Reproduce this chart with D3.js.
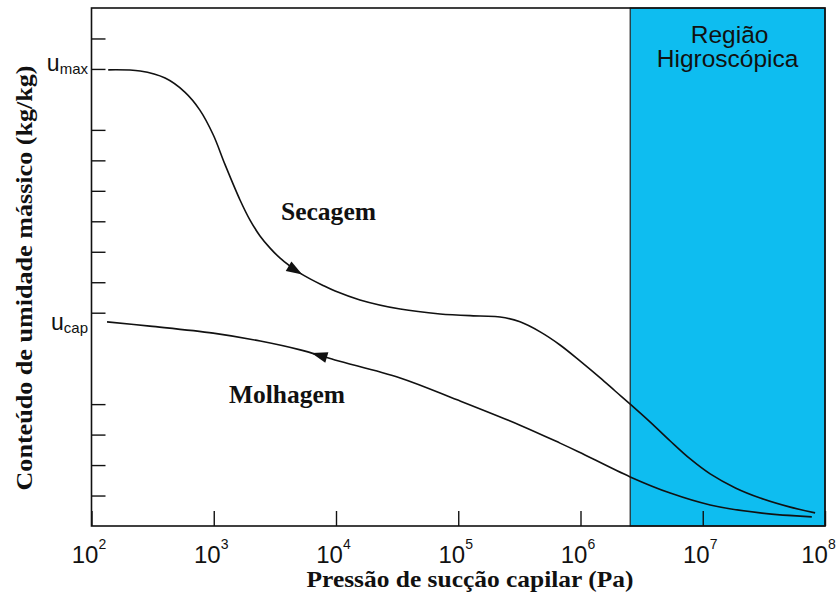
<!DOCTYPE html>
<html>
<head>
<meta charset="utf-8">
<script src="https://cdn.jsdelivr.net/npm/d3@7"></script>
<style>
  body { margin: 0; background: #fff; }
  .serif { font-family: "Liberation Serif", "Times New Roman", serif; font-weight: bold; }
  .sans { font-family: "Liberation Sans", Arial, sans-serif; }
</style>
</head>
<body>
<div id="chart"></div>
<script>
// drying curve: suction pressure (Pa) and moisture content (axis tick units)
var secagemP = [1.37e2, 2.5e2, 4.0e2, 5.8e2, 7.7e2, 9.9e2, 1.24e3, 1.64e3, 1.98e3, 2.39e3, 2.89e3, 3.49e3,
  4.21e3, 5.08e3, 6.14e3, 7.69e3, 9.84e3, 1.57e4, 3.35e4, 7.1e4, 1.51e5, 2.2e5, 3.2e5, 4.68e5, 6.8e5,
  9.95e5, 1.45e6, 1.92e6, 2.55e6, 3.72e6, 5.42e6, 7.9e6, 1.15e7, 1.85e7, 2.95e7, 5.2e7, 8.3e7];
var secagemU = [14.97, 14.93, 14.70, 14.24, 13.65, 12.84, 11.85, 10.70, 10.04, 9.52, 9.12, 8.79,
  8.53, 8.30, 8.11, 7.91, 7.71, 7.42, 7.12, 6.96, 6.89, 6.86, 6.70, 6.37, 5.94,
  5.41, 4.86, 4.43, 4.00, 3.41, 2.79, 2.20, 1.71, 1.25, 0.92, 0.62, 0.43];

// wetting curve
var molhagemP = [1.34e2, 3.0e2, 9.9e2, 2.4e3, 5.1e3, 9.8e3, 3.35e4, 9.8e4, 3.2e5, 6.8e5, 9.7e5, 2.55e6,
  5.42e6, 1.15e7, 2.95e7, 7.8e7];
var molhagemU = [6.70, 6.56, 6.33, 6.07, 5.78, 5.45, 4.86, 4.14, 3.31, 2.72, 2.43, 1.61,
  1.08, 0.69, 0.43, 0.30];

// axis ticks
var xTickValues = [1e2, 1e3, 1e4, 1e5, 1e6, 1e7, 1e8];
var xTickExp = ["2", "3", "4", "5", "6", "7", "8"];
var yTickValues = [1, 2, 3, 4, 7, 8, 9, 10, 11, 12, 13, 15, 16];

// marked moisture levels
var uMax = 15;
var uCap = 6.7;

// hygroscopic region limits (Pa)
var hygroStart = 2.55e6;
var hygroEnd = 1e8;

// where the direction arrows sit (Pa)
var secagemArrowP = 5.3e3;
var molhagemArrowP = 6.3e3;

var width = 838;
var height = 599;
var plotLeft = 91.5, plotRight = 825, plotTop = 8, plotBottom = 526;

var svg = d3
  .select("#chart")
  .append("svg")
  .attr("width", width)
  .attr("height", height);

var xScale = d3.scaleLog().domain([1e2, 1e8]).range([plotLeft, plotRight]);
var yScale = d3.scaleLinear().domain([0, 17]).range([plotBottom, plotTop]);

// blue hygroscopic band
svg.append("rect")
  .attr("x", xScale(hygroStart))
  .attr("y", plotTop)
  .attr("width", xScale(hygroEnd) - xScale(hygroStart))
  .attr("height", plotBottom - plotTop)
  .attr("fill", "#0ebdf0")
  .attr("stroke", "#222")
  .attr("stroke-width", 1.2);

var bandMid = (xScale(hygroStart) + xScale(hygroEnd)) / 2;
svg.append("text")
  .attr("class", "sans")
  .attr("x", bandMid + 2)
  .attr("y", 43)
  .attr("text-anchor", "middle")
  .attr("font-size", 24.5)
  .attr("fill", "#111")
  .text("Região");
svg.append("text")
  .attr("class", "sans")
  .attr("x", bandMid)
  .attr("y", 67)
  .attr("text-anchor", "middle")
  .attr("font-size", 24.5)
  .attr("fill", "#111")
  .text("Higroscópica");

// axes
var xAxis = d3.axisBottom(xScale).tickValues(xTickValues).tickSize(-15).tickFormat("");
var yAxis = d3.axisLeft(yScale).tickValues(yTickValues).tickSize(-14).tickFormat("");

var gx = svg.append("g")
  .attr("transform", "translate(0," + plotBottom + ")")
  .call(xAxis);
gx.select(".domain").remove();
gx.selectAll(".tick line").attr("stroke", "#111").attr("stroke-width", 1.4);

gx.selectAll(".tick text")
  .attr("class", "sans")
  .attr("y", 37)
  .attr("dy", null)
  .attr("x", function(d, i) { return i === xTickValues.length - 1 ? -7 : -3; })
  .attr("text-anchor", "middle")
  .attr("font-size", 24)
  .attr("fill", "#111")
  .each(function(d, i) {
    var t = d3.select(this);
    t.append("tspan").text("10");
    t.append("tspan").attr("dy", -14).attr("font-size", 14).text(xTickExp[i]);
  });

var gy = svg.append("g")
  .attr("transform", "translate(" + plotLeft + ",0)")
  .call(yAxis);
gy.select(".domain").remove();
gy.selectAll(".tick line").attr("stroke", "#111").attr("stroke-width", 1.4);

// plot frame
svg.append("rect")
  .attr("x", plotLeft)
  .attr("y", plotTop)
  .attr("width", plotRight - plotLeft)
  .attr("height", plotBottom - plotTop)
  .attr("fill", "none")
  .attr("stroke", "#111")
  .attr("stroke-width", 1.6);

// u labels on the left
function uLabel(sub, value, dy) {
  var t = svg.append("text")
    .attr("class", "sans")
    .attr("x", 88)
    .attr("y", yScale(value) + dy)
    .attr("text-anchor", "end")
    .attr("fill", "#111");
  t.append("tspan").attr("font-size", 23).text("u");
  t.append("tspan").attr("font-size", 15).attr("dy", 3).text(sub);
}
uLabel("max", uMax, 2);
uLabel("cap", uCap, 8);

// curves
var line = d3.line()
  .x(function(d) { return xScale(d[0]); })
  .y(function(d) { return yScale(d[1]); })
  .curve(d3.curveCatmullRom.alpha(0.5));

var secagem = d3.zip(secagemP, secagemU);
var molhagem = d3.zip(molhagemP, molhagemU);

var secPath = svg.append("path")
  .datum(secagem)
  .attr("d", line)
  .attr("fill", "none")
  .attr("stroke", "#111")
  .attr("stroke-width", 1.6);

var molPath = svg.append("path")
  .datum(molhagem)
  .attr("d", line)
  .attr("fill", "none")
  .attr("stroke", "#111")
  .attr("stroke-width", 1.6);

// arrow head on a path at a given pressure, dir = 1 forward, -1 backward
function addArrow(pathSel, p, dir) {
  var node = pathSel.node();
  var total = node.getTotalLength();
  var tx = xScale(p);
  var lo = 0, hi = total;
  for (var k = 0; k < 40; k++) {
    var mid = (lo + hi) / 2;
    if (node.getPointAtLength(mid).x < tx) lo = mid; else hi = mid;
  }
  var pt = node.getPointAtLength(lo);
  var a = node.getPointAtLength(Math.max(0, lo - 3));
  var b = node.getPointAtLength(Math.min(total, lo + 3));
  var ang = Math.atan2(b.y - a.y, b.x - a.x) * 180 / Math.PI;
  if (dir < 0) ang += 180;
  svg.append("path")
    .attr("d", "M0,0L-16,-5.5L-16,5.5Z")
    .attr("fill", "#111")
    .attr("transform", "translate(" + pt.x + "," + pt.y + ")rotate(" + ang + ")");
}
addArrow(secPath, secagemArrowP, 1);
addArrow(molPath, molhagemArrowP, -1);

// curve names
svg.append("text")
  .attr("class", "serif")
  .attr("x", 281)
  .attr("y", 220)
  .attr("font-size", 25)
  .attr("textLength", 95)
  .attr("lengthAdjust", "spacingAndGlyphs")
  .attr("fill", "#111")
  .text("Secagem");

svg.append("text")
  .attr("class", "serif")
  .attr("x", 229)
  .attr("y", 403)
  .attr("font-size", 25)
  .attr("textLength", 116)
  .attr("lengthAdjust", "spacingAndGlyphs")
  .attr("fill", "#111")
  .text("Molhagem");

// axis titles
svg.append("text")
  .attr("class", "serif")
  .attr("x", 470)
  .attr("y", 587)
  .attr("text-anchor", "middle")
  .attr("font-size", 23)
  .attr("textLength", 327)
  .attr("lengthAdjust", "spacingAndGlyphs")
  .attr("fill", "#111")
  .text("Pressão de sucção capilar (Pa)");

svg.append("text")
  .attr("class", "serif")
  .attr("transform", "translate(32,278)rotate(-90)")
  .attr("text-anchor", "middle")
  .attr("font-size", 23)
  .attr("textLength", 425)
  .attr("lengthAdjust", "spacingAndGlyphs")
  .attr("fill", "#111")
  .text("Conteúdo de umidade mássico (kg/kg)");
</script>
</body>
</html>
